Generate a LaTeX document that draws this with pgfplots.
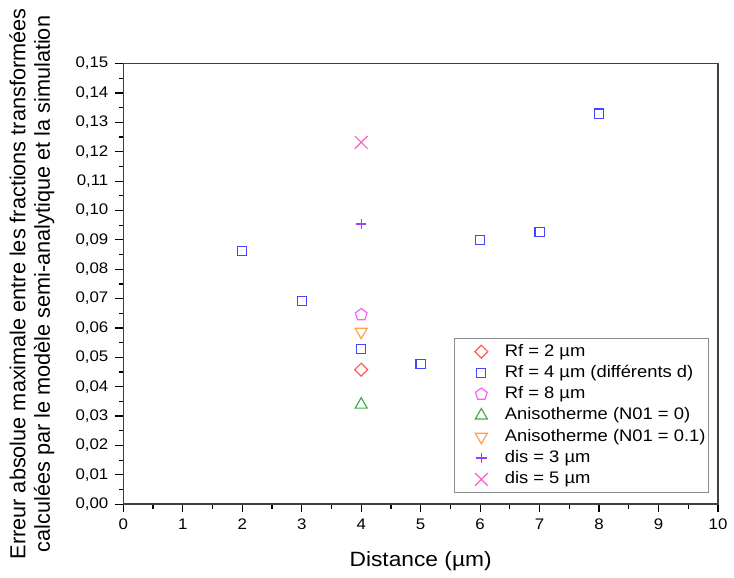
\documentclass[border=0pt]{standalone}
\usepackage{fontspec}
\setmainfont[FakeStretch=1.1]{Liberation Sans}
\newfontfamily\ylabfont{Liberation Sans}
\usepackage{pgfplots}
\pgfplotsset{compat=1.18}
\definecolor{cblue}{RGB}{70,70,255}
\definecolor{cred}{RGB}{255,90,90}
\definecolor{cmag}{RGB}{255,90,255}
\definecolor{cgreen}{RGB}{70,170,70}
\definecolor{corange}{RGB}{255,160,80}
\definecolor{cpurple}{RGB}{160,60,255}
\definecolor{cpink}{RGB}{255,90,200}
\begin{document}
\begin{tikzpicture}
\begin{axis}[
  width=299pt, height=221.5pt, scale only axis,
  xmin=0, xmax=10, ymin=0, ymax=0.15,
  xtick={0,1,...,10}, ytick={0,0.01,...,0.15},
  minor x tick num=1, minor y tick num=1,
  xtick pos=bottom, ytick pos=left, tick align=outside,
  major tick length=4pt, minor tick length=2.3pt,
  tick style={black, line width=0.6pt},
  axis line style={line width=0.8pt, black!75},
  /pgf/number format/assume math mode=true,
  yticklabel style={/pgf/number format/.cd, use comma, fixed, fixed zerofill, precision=2},
  ticklabel style={font=\fontsize{7.7}{9}\selectfont},
  xlabel={Distance (µm)},
  ylabel={Erreur absolue maximale entre les fractions transformées\\calculées par le modèle semi-analytique et la simulation},
  xlabel style={font=\fontsize{10.4}{12}\selectfont, at={(axis description cs:0.5,0)}, anchor=base, yshift=-31.5pt},
  ylabel style={font=\ylabfont\fontsize{10.9}{12.3}\selectfont, align=center, at={(axis description cs:0,0.5)}, anchor=south, yshift=34.5pt, inner sep=0pt},
  legend style={at={(0.985,0.025)}, anchor=south east, draw=black!45, line width=0.6pt,
    font=\fontsize{8.4}{9.6}\selectfont, inner xsep=0pt, inner ysep=1.3pt, row sep=0pt,
    nodes={inner sep=1.5pt, text height=6.1pt, text depth=1.6pt}},
  legend cell align=left,
  legend image code/.code={\path (0pt,0pt) (23pt,0pt); \draw[#1] plot coordinates {(13pt,0pt)};},
  every axis plot/.append style={only marks, line width=0.6pt},
]
\addplot[cred, mark=square, mark size=2.3pt, mark options={rotate=45}] coordinates {(4,0.0458)};
\addlegendentry{Rf = 2 µm}
\addplot[cblue, mark=square, mark size=2.3pt] coordinates {(2,0.0862) (3,0.0692) (4,0.0529) (5,0.0478) (6,0.0899) (7,0.0926) (8,0.1330)};
\addlegendentry{Rf = 4 µm (différents d)}
\addplot[cmag, mark=pentagon, mark size=3.1pt] coordinates {(4,0.0645)};
\addlegendentry{Rf = 8 µm}
\addplot[cgreen, mark=triangle, mark size=3.5pt] coordinates {(4,0.0339)};
\addlegendentry{Anisotherme (N01 = 0)}
\addplot[corange, mark=triangle, mark size=3.5pt, mark options={rotate=180}] coordinates {(4,0.0587)};
\addlegendentry{Anisotherme (N01 = 0.1)}
\addplot[cpurple, mark=+, mark size=2.65pt] coordinates {(4,0.0954)};
\addlegendentry{dis = 3 µm}
\addplot[cpink, mark=x, mark size=4.5pt] coordinates {(4,0.1232)};
\addlegendentry{dis = 5 µm}
\end{axis}
\path (current axis.south west) ++(-62pt,-34.5pt);
\path (current axis.north east) ++(6pt,32pt);
\end{tikzpicture}
\end{document}
